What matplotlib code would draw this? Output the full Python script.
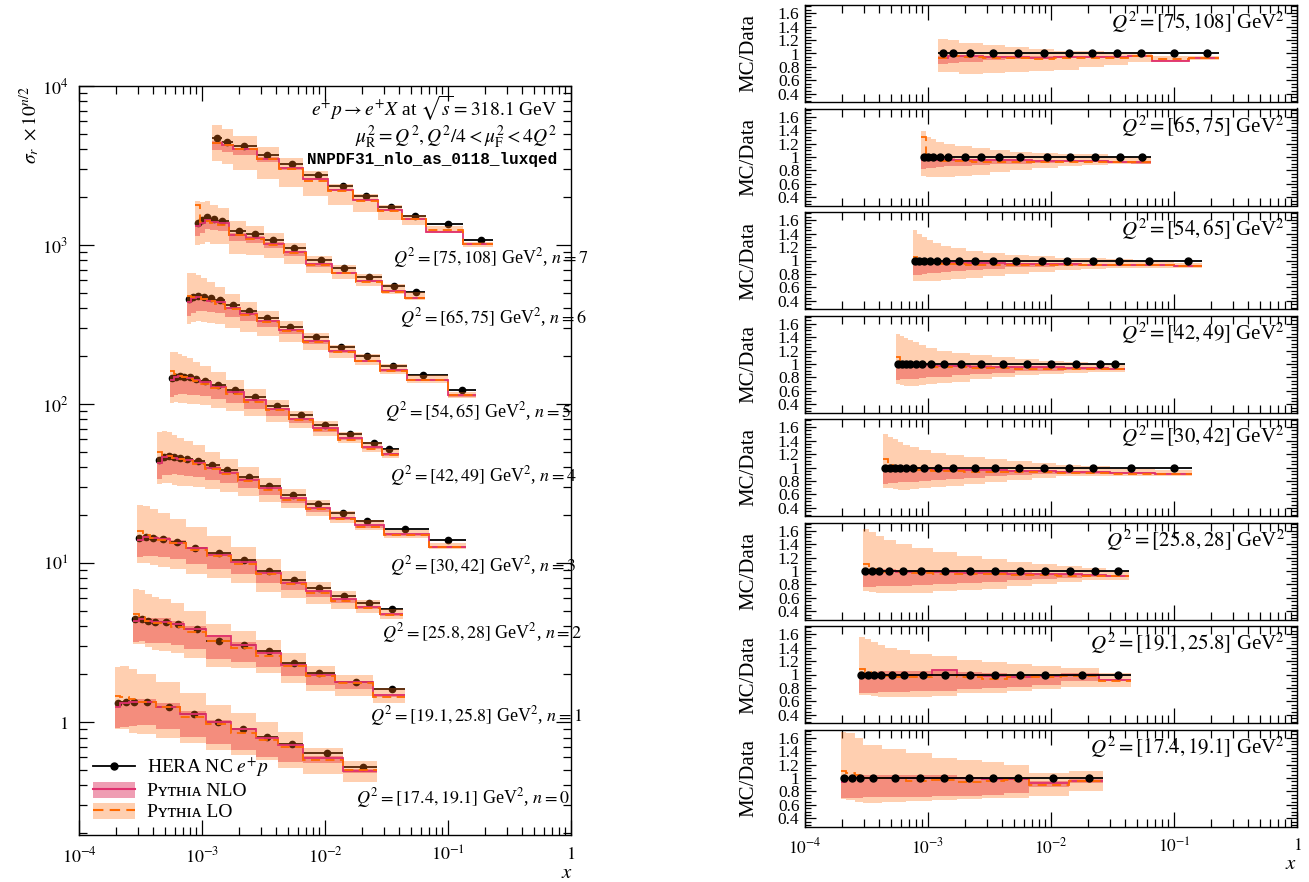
import numpy as np
import matplotlib
matplotlib.use('Agg')
import matplotlib.pyplot as plt
from matplotlib.ticker import FixedLocator, FixedFormatter, NullFormatter, LogLocator, MultipleLocator
from matplotlib.lines import Line2D
from matplotlib.patches import Patch

plt.rcParams['font.family'] = ['Liberation Serif', 'DejaVu Serif']
plt.rcParams['mathtext.fontset'] = 'stix'

# ---------------- data ----------------
q2_ranges = ["[17.4, 19.1]", "[19.1, 25.8]", "[25.8, 28]", "[30, 42]",
             "[42, 49]", "[54, 65]", "[65, 75]", "[75, 108]"]

# n = 0 : Q2 = [17.4, 19.1]
x_n0 = [2.09e-4, 2.4e-4, 2.78e-4, 3.58e-4, 5.35e-4, 8.6e-4, 1.36e-3, 2.17e-3, 3.39e-3, 5.38e-3, 1.04e-2, 2.03e-2]
edges_n0 = [1.98e-4, 2.17e-4, 2.55e-4, 2.97e-4, 4.24e-4, 6.64e-4, 1.07e-3, 1.73e-3, 2.75e-3, 4.17e-3, 6.58e-3, 1.41e-2, 2.66e-2]
sigma_n0 = [1.32, 1.34, 1.34, 1.34, 1.25, 1.12, 0.996, 0.904, 0.808, 0.724, 0.641, 0.519]
nlo_n0 = [0.94, 0.99, 1.0, 1.0, 1.0, 1.0, 1.0, 1.0, 0.99, 0.99, 0.93, 0.95]
nlo_lo_n0 = [0.70, 0.70, 0.71, 0.72, 0.72, 0.72, 0.73, 0.74, 0.75, 0.77, 0.86, 0.92]
nlo_hi_n0 = [1.0, 1.02, 1.03, 1.05, 1.05, 1.05, 1.04, 1.02, 1.0, 1.0, 0.96, 0.98]
lo_n0 = [1.11, 1.07, 1.04, 1.0, 1.0, 0.96, 0.97, 0.94, 0.96, 0.97, 0.90, 0.96]
lo_lo_n0 = [0.69, 0.68, 0.64, 0.63, 0.64, 0.66, 0.67, 0.69, 0.71, 0.71, 0.74, 0.81]
lo_hi_n0 = [1.69, 1.67, 1.60, 1.49, 1.43, 1.37, 1.29, 1.27, 1.24, 1.20, 1.07, 1.10]

# n = 1 : Q2 = [19.1, 25.8]
x_n1 = [2.85e-4, 3.24e-4, 3.66e-4, 4.15e-4, 5.07e-4, 6.35e-4, 9.05e-4, 1.38e-3, 2.19e-3, 3.51e-3, 5.63e-3, 8.9e-3, 1.78e-2, 3.5e-2]
edges_n1 = [2.75e-4, 3.05e-4, 3.45e-4, 3.9e-4, 4.5e-4, 5.6e-4, 7.2e-4, 1.07e-3, 1.73e-3, 2.75e-3, 4.4e-3, 7.0e-3, 1.2e-2, 2.47e-2, 4.47e-2]
sigma_n1 = [1.40, 1.41, 1.37, 1.35, 1.35, 1.30, 1.21, 1.03, 0.965, 0.88, 0.747, 0.64, 0.566, 0.508]
nlo_n1 = [0.97, 1.0, 1.0, 1.0, 1.0, 1.0, 1.0, 1.07, 1.0, 0.98, 0.97, 0.98, 1.0, 0.92]
nlo_lo_n1 = [0.72, 0.73, 0.73, 0.74, 0.74, 0.74, 0.75, 0.76, 0.78, 0.80, 0.82, 0.85, 0.90, 0.90]
nlo_hi_n1 = [1.02, 1.03, 1.04, 1.05, 1.05, 1.05, 1.05, 1.08, 1.04, 1.02, 1.0, 1.0, 1.02, 0.94]
lo_n1 = [1.08, 1.04, 1.0, 0.99, 0.98, 0.97, 0.97, 1.0, 0.96, 0.93, 0.96, 0.97, 0.98, 0.90]
lo_lo_n1 = [0.70, 0.69, 0.68, 0.67, 0.66, 0.66, 0.66, 0.68, 0.72, 0.73, 0.75, 0.78, 0.82, 0.82]
lo_hi_n1 = [1.55, 1.52, 1.48, 1.44, 1.40, 1.36, 1.31, 1.27, 1.22, 1.18, 1.15, 1.12, 1.10, 1.02]

# n = 2 : Q2 = [25.8, 28]
x_n2 = [3.1e-4, 3.5e-4, 4.0e-4, 4.8e-4, 6.3e-4, 8.8e-4, 1.37e-3, 2.19e-3, 3.51e-3, 5.63e-3, 8.9e-3, 1.43e-2, 2.28e-2, 3.5e-2]
edges_n2 = [2.95e-4, 3.3e-4, 3.75e-4, 4.4e-4, 5.5e-4, 7.4e-4, 1.1e-3, 1.73e-3, 2.75e-3, 4.4e-3, 7.0e-3, 1.12e-2, 1.8e-2, 2.8e-2, 4.3e-2]
sigma_n2 = [1.44, 1.45, 1.43, 1.41, 1.36, 1.25, 1.15, 1.04, 0.895, 0.782, 0.693, 0.622, 0.562, 0.512]
nlo_n2 = [0.97, 1.0, 1.0, 1.0, 0.99, 0.99, 0.98, 0.97, 0.97, 0.96, 0.96, 0.95, 0.94, 0.93]
nlo_lo_n2 = [0.76, 0.76, 0.77, 0.77, 0.78, 0.79, 0.80, 0.82, 0.84, 0.86, 0.88, 0.90, 0.91, 0.91]
nlo_hi_n2 = [1.02, 1.03, 1.03, 1.03, 1.02, 1.01, 1.0, 0.99, 0.98, 0.98, 0.97, 0.96, 0.95, 0.94]
lo_n2 = [1.10, 1.03, 1.0, 0.99, 0.98, 0.97, 0.96, 0.95, 0.95, 0.94, 0.94, 0.93, 0.93, 0.92]
lo_lo_n2 = [0.70, 0.69, 0.68, 0.67, 0.67, 0.68, 0.70, 0.72, 0.74, 0.77, 0.80, 0.83, 0.86, 0.87]
lo_hi_n2 = [1.62, 1.58, 1.52, 1.46, 1.40, 1.34, 1.28, 1.22, 1.18, 1.14, 1.10, 1.07, 1.04, 1.0]

# n = 3 : Q2 = [30, 42]
x_n3 = [4.5e-4, 4.9e-4, 5.4e-4, 5.9e-4, 6.6e-4, 7.6e-4, 9.2e-4, 1.2e-3, 1.6e-3, 2.4e-3, 3.5e-3, 5.5e-3, 8.8e-3, 1.4e-2, 2.2e-2, 4.5e-2, 0.1]
edges_n3 = [4.3e-4, 4.7e-4, 5.15e-4, 5.65e-4, 6.25e-4, 7.1e-4, 8.4e-4, 1.05e-3, 1.4e-3, 1.95e-3, 2.9e-3, 4.4e-3, 7.0e-3, 1.1e-2, 1.75e-2, 3.0e-2, 7.0e-2, 0.14]
sigma_n3 = [1.41, 1.46, 1.48, 1.47, 1.45, 1.42, 1.38, 1.30, 1.21, 1.10, 0.97, 0.85, 0.74, 0.65, 0.58, 0.52, 0.44]
nlo_n3 = [0.96, 1.0, 1.0, 0.99, 0.99, 0.99, 0.98, 0.97, 0.97, 0.96, 0.96, 0.95, 0.95, 0.94, 0.94, 0.92, 0.91]
nlo_lo_n3 = [0.76, 0.77, 0.77, 0.78, 0.78, 0.79, 0.80, 0.81, 0.83, 0.85, 0.87, 0.89, 0.90, 0.91, 0.91, 0.90, 0.90]
nlo_hi_n3 = [1.02, 1.03, 1.03, 1.02, 1.02, 1.01, 1.0, 0.99, 0.99, 0.98, 0.97, 0.96, 0.96, 0.95, 0.95, 0.93, 0.92]
lo_n3 = [1.12, 1.03, 1.0, 0.99, 0.98, 0.97, 0.96, 0.95, 0.95, 0.94, 0.94, 0.93, 0.93, 0.92, 0.92, 0.91, 0.91]
lo_lo_n3 = [0.70, 0.69, 0.68, 0.67, 0.67, 0.68, 0.69, 0.71, 0.73, 0.76, 0.79, 0.82, 0.85, 0.87, 0.88, 0.88, 0.88]
lo_hi_n3 = [1.50, 1.46, 1.42, 1.38, 1.34, 1.30, 1.26, 1.22, 1.18, 1.15, 1.12, 1.09, 1.06, 1.04, 1.02, 0.98, 0.96]

# n = 4 : Q2 = [42, 49]
x_n4 = [5.7e-4, 6.1e-4, 6.6e-4, 7.2e-4, 8.0e-4, 9.0e-4, 1.05e-3, 1.35e-3, 1.85e-3, 2.7e-3, 4.1e-3, 6.4e-3, 1.0e-2, 1.6e-2, 2.5e-2, 3.3e-2]
edges_n4 = [5.5e-4, 5.9e-4, 6.35e-4, 6.9e-4, 7.6e-4, 8.5e-4, 9.7e-4, 1.18e-3, 1.58e-3, 2.2e-3, 3.3e-3, 5.1e-3, 8.0e-3, 1.27e-2, 2.0e-2, 2.9e-2, 4.0e-2]
sigma_n4 = [1.46, 1.49, 1.50, 1.49, 1.47, 1.44, 1.40, 1.32, 1.22, 1.10, 0.97, 0.85, 0.74, 0.65, 0.57, 0.52]
nlo_n4 = [0.97, 1.0, 1.0, 0.99, 0.99, 0.99, 0.98, 0.97, 0.97, 0.96, 0.96, 0.95, 0.95, 0.94, 0.94, 0.93]
nlo_lo_n4 = [0.76, 0.77, 0.77, 0.78, 0.78, 0.79, 0.80, 0.81, 0.83, 0.85, 0.87, 0.89, 0.90, 0.91, 0.91, 0.91]
nlo_hi_n4 = [1.02, 1.03, 1.03, 1.02, 1.02, 1.01, 1.0, 0.99, 0.99, 0.98, 0.97, 0.96, 0.96, 0.95, 0.95, 0.94]
lo_n4 = [1.10, 1.03, 1.0, 0.99, 0.98, 0.97, 0.96, 0.95, 0.95, 0.94, 0.94, 0.93, 0.93, 0.92, 0.92, 0.92]
lo_lo_n4 = [0.70, 0.69, 0.68, 0.68, 0.68, 0.69, 0.70, 0.72, 0.74, 0.77, 0.80, 0.83, 0.85, 0.87, 0.88, 0.88]
lo_hi_n4 = [1.45, 1.42, 1.38, 1.35, 1.32, 1.28, 1.24, 1.20, 1.16, 1.13, 1.10, 1.07, 1.05, 1.03, 1.01, 1.0]

# n = 5 : Q2 = [54, 65]
x_n5 = [7.8e-4, 8.5e-4, 9.3e-4, 1.03e-3, 1.18e-3, 1.4e-3, 1.8e-3, 2.4e-3, 3.4e-3, 5.2e-3, 8.5e-3, 1.35e-2, 2.2e-2, 3.6e-2, 6.3e-2, 0.13]
edges_n5 = [7.5e-4, 8.2e-4, 8.9e-4, 9.8e-4, 1.1e-3, 1.28e-3, 1.55e-3, 2.05e-3, 2.8e-3, 4.2e-3, 6.6e-3, 1.08e-2, 1.75e-2, 2.8e-2, 4.6e-2, 0.1, 0.17]
sigma_n5 = [1.45, 1.50, 1.52, 1.50, 1.46, 1.42, 1.32, 1.22, 1.10, 0.97, 0.83, 0.72, 0.63, 0.55, 0.48, 0.39]
nlo_n5 = [0.96, 0.98, 0.98, 0.97, 0.97, 0.97, 0.96, 0.96, 0.96, 0.95, 0.95, 0.95, 0.94, 0.94, 0.94, 0.92]
nlo_lo_n5 = [0.78, 0.79, 0.80, 0.81, 0.82, 0.83, 0.84, 0.86, 0.88, 0.90, 0.91, 0.92, 0.92, 0.92, 0.92, 0.90]
nlo_hi_n5 = [1.0, 1.0, 1.0, 1.0, 0.99, 0.99, 0.98, 0.98, 0.97, 0.97, 0.96, 0.96, 0.95, 0.95, 0.95, 0.93]
lo_n5 = [1.05, 1.0, 0.98, 0.97, 0.96, 0.95, 0.95, 0.94, 0.94, 0.94, 0.93, 0.93, 0.93, 0.93, 0.93, 0.92]
lo_lo_n5 = [0.70, 0.69, 0.69, 0.69, 0.70, 0.71, 0.72, 0.74, 0.77, 0.80, 0.83, 0.86, 0.88, 0.89, 0.89, 0.89]
lo_hi_n5 = [1.45, 1.40, 1.35, 1.30, 1.26, 1.22, 1.18, 1.14, 1.11, 1.08, 1.06, 1.04, 1.03, 1.02, 1.0, 0.96]

# n = 6 : Q2 = [65, 75]
x_n6 = [9.3e-4, 1.0e-3, 1.1e-3, 1.25e-3, 1.45e-3, 2.0e-3, 2.7e-3, 3.8e-3, 5.6e-3, 9.2e-3, 1.43e-2, 2.3e-2, 3.66e-2, 5.5e-2]
edges_n6 = [8.8e-4, 9.65e-4, 1.05e-3, 1.17e-3, 1.35e-3, 1.65e-3, 2.3e-3, 3.2e-3, 4.6e-3, 7.0e-3, 1.15e-2, 1.8e-2, 2.9e-2, 4.5e-2, 6.5e-2]
sigma_n6 = [1.38, 1.436, 1.493, 1.458, 1.423, 1.225, 1.173, 1.075, 0.952, 0.805, 0.713, 0.632, 0.554, 0.508]
nlo_n6 = [0.96, 0.96, 0.96, 0.96, 0.96, 0.95, 0.95, 0.95, 0.95, 0.94, 0.94, 0.94, 0.93, 0.92]
nlo_lo_n6 = [0.82, 0.83, 0.84, 0.85, 0.86, 0.87, 0.88, 0.89, 0.90, 0.91, 0.92, 0.92, 0.91, 0.90]
nlo_hi_n6 = [0.98, 0.98, 0.98, 0.98, 0.98, 0.97, 0.97, 0.97, 0.96, 0.96, 0.95, 0.95, 0.94, 0.93]
lo_n6 = [1.30, 0.97, 0.95, 0.94, 0.94, 0.94, 0.93, 0.93, 0.93, 0.93, 0.93, 0.93, 0.92, 0.92]
lo_lo_n6 = [0.72, 0.71, 0.70, 0.70, 0.71, 0.72, 0.74, 0.77, 0.80, 0.83, 0.86, 0.88, 0.89, 0.89]
lo_hi_n6 = [1.38, 1.30, 1.26, 1.23, 1.20, 1.16, 1.13, 1.10, 1.08, 1.06, 1.05, 1.04, 1.02, 1.0]

# n = 7 : Q2 = [75, 108]
x_n7 = [1.32e-3, 1.6e-3, 2.2e-3, 3.4e-3, 5.4e-3, 8.7e-3, 1.39e-2, 2.17e-2, 3.43e-2, 5.43e-2, 0.1, 0.185]
edges_n7 = [1.21e-3, 1.46e-3, 1.77e-3, 2.79e-3, 4.23e-3, 6.67e-3, 1.06e-2, 1.70e-2, 2.71e-2, 4.25e-2, 6.68e-2, 0.133, 0.233]
sigma_n7 = [1.48, 1.41, 1.33, 1.165, 1.02, 0.87, 0.74, 0.64, 0.55, 0.48, 0.43, 0.34]
nlo_n7 = [0.94, 0.96, 0.96, 0.95, 0.95, 0.94, 0.95, 0.95, 0.95, 0.96, 0.89, 0.94]
nlo_lo_n7 = [0.84, 0.86, 0.88, 0.90, 0.92, 0.93, 0.94, 0.94, 0.94, 0.95, 0.89, 0.93]
nlo_hi_n7 = [0.96, 0.97, 0.97, 0.97, 0.96, 0.96, 0.96, 0.96, 0.96, 0.97, 0.90, 0.95]
lo_n7 = [0.93, 0.96, 0.95, 0.94, 0.93, 0.92, 0.93, 0.93, 0.94, 0.96, 0.92, 0.94]
lo_lo_n7 = [0.72, 0.72, 0.70, 0.71, 0.72, 0.74, 0.76, 0.80, 0.83, 0.88, 0.88, 0.91]
lo_hi_n7 = [1.22, 1.20, 1.16, 1.12, 1.09, 1.06, 1.04, 1.03, 1.02, 1.02, 0.97, 0.97]

series = [
    (x_n0, edges_n0, sigma_n0, nlo_n0, nlo_lo_n0, nlo_hi_n0, lo_n0, lo_lo_n0, lo_hi_n0),
    (x_n1, edges_n1, sigma_n1, nlo_n1, nlo_lo_n1, nlo_hi_n1, lo_n1, lo_lo_n1, lo_hi_n1),
    (x_n2, edges_n2, sigma_n2, nlo_n2, nlo_lo_n2, nlo_hi_n2, lo_n2, lo_lo_n2, lo_hi_n2),
    (x_n3, edges_n3, sigma_n3, nlo_n3, nlo_lo_n3, nlo_hi_n3, lo_n3, lo_lo_n3, lo_hi_n3),
    (x_n4, edges_n4, sigma_n4, nlo_n4, nlo_lo_n4, nlo_hi_n4, lo_n4, lo_lo_n4, lo_hi_n4),
    (x_n5, edges_n5, sigma_n5, nlo_n5, nlo_lo_n5, nlo_hi_n5, lo_n5, lo_lo_n5, lo_hi_n5),
    (x_n6, edges_n6, sigma_n6, nlo_n6, nlo_lo_n6, nlo_hi_n6, lo_n6, lo_lo_n6, lo_hi_n6),
    (x_n7, edges_n7, sigma_n7, nlo_n7, nlo_lo_n7, nlo_hi_n7, lo_n7, lo_lo_n7, lo_hi_n7),
]

x_ticks = [1e-4, 1e-3, 1e-2, 1e-1, 1]
x_ticklabels = [r'$10^{-4}$', r'$10^{-3}$', r'$10^{-2}$', r'$10^{-1}$', r'$1$']
y_ticks = [1, 10, 100, 1000, 10000]
y_ticklabels = [r'$1$', r'$10^{1}$', r'$10^{2}$', r'$10^{3}$', r'$10^{4}$']
r_ticks = [0.4, 0.6, 0.8, 1.0, 1.2, 1.4, 1.6]
r_ticklabels = ['0.4', '0.6', '0.8', '1', '1.2', '1.4', '1.6']

# ---------------- style ----------------
C_LO_BAND = '#ff6e10'
A_LO_BAND = 0.33
C_NLO_BAND = '#e13c69'
A_NLO_BAND = 0.5
C_NLO = '#e0306e'
C_LO = '#ff6a00'
W, H = 1309, 882

fig = plt.figure(figsize=(W / 100, H / 100), dpi=100)


def px_axes(l, t, r, b):
    return fig.add_axes([l / W, 1 - b / H, (r - l) / W, (b - t) / H])


def style_ticks(ax, major=10, minor=5):
    ax.tick_params(which='both', direction='in', top=True, right=True, width=0.9)
    ax.tick_params(which='major', length=major)
    ax.tick_params(which='minor', length=minor)
    for s in ax.spines.values():
        s.set_linewidth(1.0)


# ---------------- left panel ----------------
axL = px_axes(79, 86, 571, 835)
axL.set_xscale('log')
axL.set_yscale('log')
axL.set_xlim(1e-4, 1)
axL.set_ylim(0.195, 1e4)

for n, (x, e, s, nlo, nlo_lo, nlo_hi, lo, lo_lo, lo_hi) in enumerate(series):
    x = np.array(x); e = np.array(e); s = np.array(s)
    f = 10 ** (n / 2)
    d = s * f
    axL.stairs(d * np.array(nlo_hi), e, baseline=d * np.array(nlo_lo), fill=True,
               color=C_NLO_BAND, alpha=A_NLO_BAND, lw=0, zorder=1)
    axL.errorbar(x, d, xerr=[x - e[:-1], e[1:] - x], fmt='o', color='black',
                 ms=4.5, lw=1.3, capsize=0, zorder=2)
    axL.stairs(d * np.array(lo_hi), e, baseline=d * np.array(lo_lo), fill=True,
               color=C_LO_BAND, alpha=A_LO_BAND, lw=0, zorder=3)
    axL.stairs(d * np.array(nlo), e, color=C_NLO, lw=1.3, baseline=None, zorder=4)
    axL.stairs(d * np.array(lo), e, color=C_LO, lw=1.3, ls=(0, (5, 3)), baseline=None, zorder=5)

axL.xaxis.set_major_locator(FixedLocator(x_ticks))
axL.xaxis.set_major_formatter(FixedFormatter(x_ticklabels))
axL.xaxis.set_minor_locator(LogLocator(base=10, subs=np.arange(2, 10), numticks=20))
axL.xaxis.set_minor_formatter(NullFormatter())
axL.yaxis.set_major_locator(FixedLocator(y_ticks))
axL.yaxis.set_major_formatter(FixedFormatter(y_ticklabels))
axL.yaxis.set_minor_locator(LogLocator(base=10, subs=np.arange(2, 10), numticks=20))
axL.yaxis.set_minor_formatter(NullFormatter())
style_ticks(axL, major=11, minor=5.5)
axL.tick_params(labelsize=13, pad=8)

axL.set_ylabel(r'$\sigma_r\ \times 10^{n/2}$', fontsize=14, loc='top')
axL.yaxis.set_label_coords(-0.075, 1.0)
axL.set_xlabel(r'$x$', fontsize=15, loc='right')
axL.xaxis.set_label_coords(1.004, -0.039)

axL.text(0.972, 0.970, r'$e^{+}p \rightarrow e^{+}X$ at $\sqrt{s} = 318.1$ GeV', transform=axL.transAxes,
         ha='right', va='center', fontsize=14)
axL.text(0.972, 0.931, r'$\mu_\mathrm{R}^2 = Q^2, Q^2/4 < \mu_\mathrm{F}^2 < 4Q^2$', transform=axL.transAxes,
         ha='right', va='center', fontsize=14)
axL.text(0.972, 0.902, 'NNPDF31_nlo_as_0118_luxqed', transform=axL.transAxes,
         ha='right', va='center', fontsize=11.5, family='Liberation Mono', weight='bold')

label_px = [(356, 798), (370, 716), (382, 633), (390, 566), (390, 476), (385, 412), (400, 318), (393, 258)]
for n, (lx, ly) in enumerate(label_px):
    axL.text((lx - 79) / 492, (835 - ly) / 749,
             r'$Q^2 = %s$ GeV$^2$, $n = %d$' % (q2_ranges[n], n),
             transform=axL.transAxes, ha='left', va='center', fontsize=13)

h_data = Line2D([], [], color='black', marker='o', ms=5, lw=1.3)
h_nlo = (Patch(facecolor=C_NLO_BAND, alpha=A_NLO_BAND, lw=0), Line2D([], [], color=C_NLO, lw=1.5))
h_lo = (Patch(facecolor=C_LO_BAND, alpha=A_LO_BAND, lw=0), Line2D([], [], color=C_LO, lw=1.5, ls=(0, (5, 3))))
axL.legend([h_data, h_nlo, h_lo],
           [r'HERA NC $e^{+}p$', 'P\u028f\u1d1b\u029c\u026a\u1d00 NLO', 'P\u028f\u1d1b\u029c\u026a\u1d00 LO'],
           loc='lower left', bbox_to_anchor=(0.0, 0.0), frameon=False, fontsize=14,
           handlelength=2.2, handleheight=0.9, labelspacing=0.12, handletextpad=0.6,
           borderaxespad=0.4, borderpad=0.3)

# ---------------- right panels ----------------
top0, step, ph = 5, 103.5, 97
for i in range(8):
    n = 7 - i
    x, e, s, nlo, nlo_lo, nlo_hi, lo, lo_lo, lo_hi = series[n]
    x = np.array(x); e = np.array(e)
    t = top0 + i * step
    ax = px_axes(805, t, 1297, t + ph)
    ax.set_xscale('log')
    ax.set_xlim(1e-4, 1)
    ax.set_ylim(0.28, 1.72)
    ax.stairs(nlo_hi, e, baseline=nlo_lo, fill=True, color=C_NLO_BAND, alpha=A_NLO_BAND, lw=0, zorder=1)
    ax.stairs(lo_hi, e, baseline=lo_lo, fill=True, color=C_LO_BAND, alpha=A_LO_BAND, lw=0, zorder=2)
    ax.stairs(nlo, e, color=C_NLO, lw=1.3, baseline=None, zorder=3)
    ax.stairs(lo, e, color=C_LO, lw=1.3, ls=(0, (5, 3)), baseline=None, zorder=4)
    ones = np.ones_like(x)
    ax.errorbar(x, ones, xerr=[x - e[:-1], e[1:] - x], fmt='o', color='black',
                ms=5, lw=1.3, capsize=0, zorder=5)
    ax.xaxis.set_major_locator(FixedLocator(x_ticks))
    ax.xaxis.set_minor_locator(LogLocator(base=10, subs=np.arange(2, 10), numticks=20))
    ax.xaxis.set_minor_formatter(NullFormatter())
    if i == 7:
        ax.xaxis.set_major_formatter(FixedFormatter(x_ticklabels))
        ax.set_xlabel(r'$x$', fontsize=15, loc='right')
        ax.xaxis.set_label_coords(1.0, -0.29)
    else:
        ax.xaxis.set_major_formatter(NullFormatter())
    ax.yaxis.set_major_locator(FixedLocator(r_ticks))
    ax.yaxis.set_major_formatter(FixedFormatter(r_ticklabels))
    ax.yaxis.set_minor_locator(MultipleLocator(0.05))
    style_ticks(ax, major=11, minor=5.5)
    ax.tick_params(axis='y', which='major', length=8)
    ax.tick_params(axis='y', which='minor', length=4)
    ax.tick_params(labelsize=12.5)
    ax.tick_params(axis='x', pad=8)
    ax.tick_params(axis='y', pad=4)
    ax.set_ylabel('MC/Data', fontsize=15)
    ax.yaxis.set_label_coords(-0.095, 0.5)
    ax.text(0.975, 0.82, r'$Q^2 = %s$ GeV$^2$' % q2_ranges[n], transform=ax.transAxes,
            ha='right', va='center', fontsize=15)

fig.savefig('out.png', dpi=100)
